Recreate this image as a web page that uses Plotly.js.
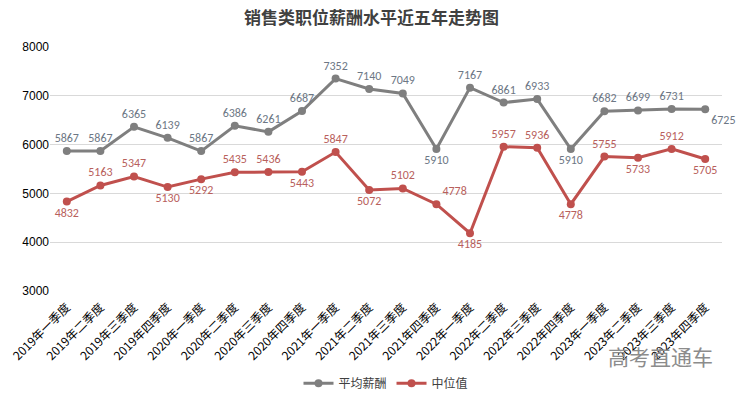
<!DOCTYPE html>
<html>
<head>
<meta charset="utf-8">
<script src="https://cdn.plot.ly/plotly-3.0.1.min.js"></script>
<style>html,body{margin:0;padding:0;background:#fff;}#chart{width:743px;height:395px;}</style>
</head>
<body>
<div id="chart"></div>
<script>
const categories = [
  "2019年一季度","2019年二季度","2019年三季度","2019年四季度",
  "2020年一季度","2020年二季度","2020年三季度","2020年四季度",
  "2021年一季度","2021年二季度","2021年三季度","2021年四季度",
  "2022年一季度","2022年二季度","2022年三季度","2022年四季度",
  "2023年一季度","2023年二季度","2023年三季度","2023年四季度"
];
const avgSalary = [5867,5867,6365,6139,5867,6386,6261,6687,7352,7140,7049,5910,7167,6861,6933,5910,6682,6699,6731,6725];
const medianSalary = [4832,5163,5347,5130,5292,5435,5436,5443,5847,5072,5102,4778,4185,5957,5936,4778,5755,5733,5912,5705];
const avgLabelPos = ["top center","top center","top center","top center","top center","top center","top center","top center","top center","top center","top center","bottom center","top center","top center","top center","bottom center","top center","top center","top center","bottom right"];
const medLabelPos = ["bottom center","top center","top center","bottom center","bottom center","top center","top center","bottom center","top center","bottom center","top center","top right","bottom center","top center","top center","bottom center","top center","bottom center","top center","bottom center"];
const yTicks = [3000,4000,5000,6000,7000,8000];

const font = "'Noto Sans CJK SC', 'Noto Sans', sans-serif";
const traces = [
  {
    x: categories, y: avgSalary, name: "平均薪酬", type: "scatter", mode: "lines+markers+text",
    line: {color: "#7f7f7f", width: 3}, marker: {color: "#7f7f7f", size: 8},
    text: avgSalary.map(String), textposition: avgLabelPos,
    textfont: {family: "Calibri, 'Liberation Sans', sans-serif", size: 12, color: "#6d7785"},
    cliponaxis: false
  },
  {
    x: categories, y: medianSalary, name: "中位值", type: "scatter", mode: "lines+markers+text",
    line: {color: "#c0504d", width: 3}, marker: {color: "#c0504d", size: 8},
    text: medianSalary.map(String), textposition: medLabelPos,
    textfont: {family: "Calibri, 'Liberation Sans', sans-serif", size: 12, color: "#b8605c"},
    cliponaxis: false
  }
];
const layout = {
  width: 743, height: 395,
  margin: {l: 50, r: 21, t: 47, b: 104, autoexpand: false},
  paper_bgcolor: "#fff", plot_bgcolor: "#fff",
  title: {text: "<b>销售类职位薪酬水平近五年走势图</b>", x: 0.5, xanchor: "center", y: 0.955, yanchor: "middle",
          font: {family: font, size: 17, color: "#404040"}},
  xaxis: {
    type: "category", tickangle: -45, showgrid: false, zeroline: false, showline: false,
    ticks: "", tickfont: {family: font, size: 12, color: "#000"}, automargin: false,
    ticklabelstandoff: 6,
    range: [-0.5, categories.length - 0.5]
  },
  yaxis: {
    range: [3000, 8000], tickvals: yTicks, ticktext: yTicks.map(String),
    showgrid: true, gridcolor: "#d9d9d9", gridwidth: 1, zeroline: false, showline: false,
    ticks: "", tickfont: {family: "'Liberation Sans', sans-serif", size: 12, color: "#000"}, automargin: false
  },
  showlegend: true,
  legend: {orientation: "h", x: 0.5, xanchor: "center", xref: "paper", yref: "container", y: 0.03, yanchor: "middle",
           itemwidth: 30, font: {family: font, size: 12, color: "#404040"}},
  annotations: [
    {text: "高考直通车", xref: "paper", yref: "paper", x: 0.99, y: -0.265, xanchor: "right", yanchor: "middle",
     showarrow: false, font: {family: font, size: 21, color: "#8c8c8c"}}
  ]
};
Plotly.newPlot("chart", traces, layout, {displayModeBar: false, staticPlot: true});
</script>
</body>
</html>
